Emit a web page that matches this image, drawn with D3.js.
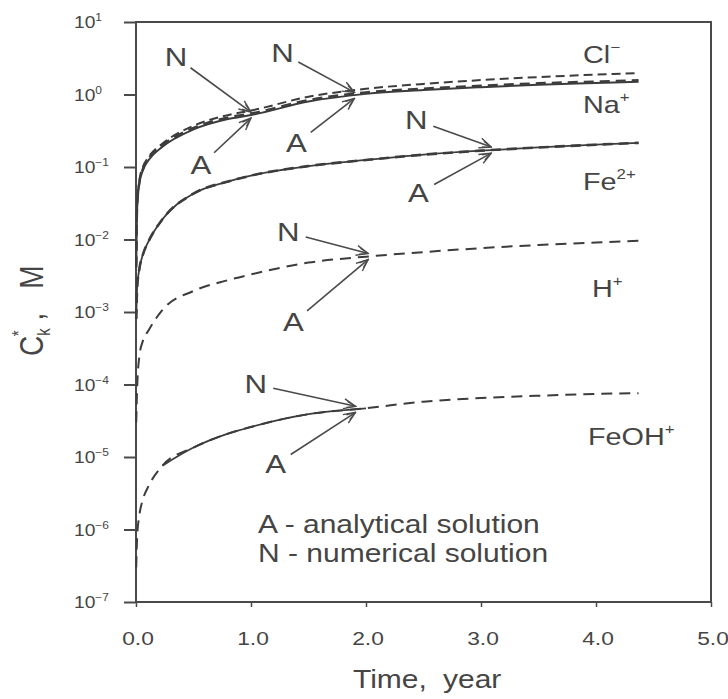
<!DOCTYPE html>
<html>
<head>
<meta charset="utf-8">
<script src="https://cdn.jsdelivr.net/npm/d3@7"></script>
<style>
  html, body { margin: 0; padding: 0; background: #fff; }
  svg { display: block; }
  text { font-family: "Liberation Sans", Arial, sans-serif; fill: #454545; }
</style>
</head>
<body>
<svg id="chart" width="728" height="699"></svg>
<script>
// Time points (years) at which the concentrations are tabulated
const times      = [0.002, 0.01, 0.03, 0.06, 0.11, 0.23, 0.5, 0.8, 1.0, 1.5, 2.0, 2.5, 3.0, 3.5, 4.0, 4.37];
// Concentrations C_k*, M
const clValues   = [0.0045, 0.031, 0.066, 0.10, 0.138, 0.21, 0.37, 0.52, 0.60, 0.93, 1.20, 1.40, 1.58, 1.74, 1.88, 1.98];
const naValues   = [0.004, 0.028, 0.060, 0.09, 0.125, 0.19, 0.33, 0.46, 0.52, 0.80, 1.02, 1.15, 1.26, 1.36, 1.44, 1.50];
const feValues   = [0.0008, 0.0022, 0.004, 0.0062, 0.0095, 0.019, 0.043, 0.063, 0.076, 0.103, 0.125, 0.148, 0.168, 0.186, 0.203, 0.215];
const hValues    = [3e-5, 9e-5, 2.5e-4, 4e-4, 5.6e-4, 1.07e-3, 1.95e-3, 2.75e-3, 3.3e-3, 4.8e-3, 5.8e-3, 6.7e-3, 7.6e-3, 8.4e-3, 9.1e-3, 9.6e-3];
const feohValues = [3e-7, 8e-7, 1.6e-6, 2.6e-6, 4.0e-6, 7.6e-6, 1.35e-5, 2.1e-5, 2.6e-5, 3.9e-5, 4.7e-5, 5.8e-5, 6.5e-5, 7.0e-5, 7.4e-5, 7.6e-5];

// Axis ticks
const xTickValues = [0, 1, 2, 3, 4, 5];
const xTickLabels = ["0.0", "1.0", "2.0", "3.0", "4.0", "5.0"];
const yTickExponents = [1, 0, -1, -2, -3, -4, -5, -6, -7];

// Species labels at the right end of each curve
const speciesNames = ["Cl", "Na", "Fe", "H", "FeOH"];
const speciesCharges = ["\u2212", "+", "2+", "+", "+"];

// Where the A / N arrows point: time on a given curve
const markTimes  = [1.0, 1.9, 3.09, 2.02, 1.91];
const markSeries = ["Na", "Na", "Fe", "H", "FeOH"];

const legendLines = ["A - analytical solution", "N - numerical solution"];

// ---------------------------------------------------------------
const svg = d3.select("#chart");
const SX = 1.2;        // horizontal stretch of the lettering
const ink = "#3c3c3c";

const x = d3.scaleLinear().domain([0, 5]).range([136, 711]);
const y = d3.scaleLog().domain([1e-7, 1e1]).range([602, 22]);

const seriesData = {
  Cl: clValues, Na: naValues, Fe: feValues, H: hValues, FeOH: feohValues
};
const pts = vals => times.map((t, i) => ({ t, v: vals[i] }));
const line = d3.line().x(d => x(d.t)).y(d => y(d.v)).curve(d3.curveMonotoneX);

function sText(g, px, py, sx = SX) {
  return g.append("text").attr("transform", `translate(${px},${py}) scale(${sx},1)`);
}

// frame
svg.append("rect")
  .attr("x", x(0)).attr("y", y(1e1))
  .attr("width", x(5) - x(0)).attr("height", y(1e-7) - y(1e1))
  .attr("fill", "none").attr("stroke", "#4a4a4a").attr("stroke-width", 2);

// y axis ticks
const yAxis = svg.append("g").attr("transform", `translate(${x(0)},0)`)
  .call(d3.axisLeft(y).tickValues(yTickExponents.map(e => Math.pow(10, e))).tickSize(12).tickFormat(""));
yAxis.select(".domain").remove();
yAxis.selectAll(".tick line").attr("stroke", "#4a4a4a").attr("stroke-width", 2);

yTickExponents.forEach(e => {
  const t = sText(svg, 74, y(Math.pow(10, e)) + 6);
  t.attr("font-size", 16);
  t.append("tspan").text("10");
  t.append("tspan").attr("font-size", 10).attr("dy", -7).text(e < 0 ? "\u2212" + (-e) : String(e));
});

// x axis ticks
const xAxis = svg.append("g").attr("transform", `translate(0,${y(1e-7)})`)
  .call(d3.axisBottom(x).tickValues(xTickValues).tickSize(5).tickFormat(""));
xAxis.select(".domain").remove();
xAxis.selectAll(".tick line").attr("stroke", "#4a4a4a").attr("stroke-width", 1.5);

xTickValues.forEach((v, i) => {
  sText(svg, x(v) + 2, 645).attr("font-size", 19).attr("text-anchor", "middle").text(xTickLabels[i]);
});

// axis titles
const xt = sText(svg, 353, 688).attr("font-size", 25);
xt.append("tspan").text("Time,");
xt.append("tspan").attr("x", (443 - 353) / SX).text("year");

const yt = svg.append("text")
  .attr("transform", "translate(43,356) rotate(-90) scale(1,1.2)")
  .attr("font-size", 28).attr("text-anchor", "start");
yt.append("tspan").text("C");
yt.append("tspan").attr("font-size", 15).attr("dy", 6).text("k");
yt.append("tspan").attr("font-size", 15).attr("dx", -8).attr("dy", -21).text("*");
yt.append("tspan").attr("dx", 10).attr("dy", 15).text(",");
yt.append("tspan").attr("dx", 24).text("M");

// curves
const curves = svg.append("g").attr("fill", "none").attr("stroke", ink).attr("stroke-linecap", "butt");
// Cl- : numerical (dashed)
curves.append("path").attr("d", line(pts(clValues))).attr("stroke-width", 2).attr("stroke-dasharray", "9,5");
// Na+ : analytical (solid) with numerical on top
curves.append("path").attr("d", line(pts(naValues))).attr("stroke-width", 2);
curves.append("path").attr("d", line(pts(naValues))).attr("stroke-width", 2.4).attr("stroke-dasharray", "10,6")
  .attr("transform", "translate(0,-1.5)");
// Fe2+ : solid + dashed coincide
curves.append("path").attr("d", line(pts(feValues))).attr("stroke-width", 1.8);
curves.append("path").attr("d", line(pts(feValues))).attr("stroke-width", 2.6).attr("stroke-dasharray", "10,6");
// H+ : dashed
curves.append("path").attr("d", line(pts(hValues))).attr("stroke-width", 2).attr("stroke-dasharray", "11,7");
// FeOH+ : dashed over the whole range, solid in the mid section
curves.append("path").attr("d", line(pts(feohValues))).attr("stroke-width", 2).attr("stroke-dasharray", "11,7");
curves.append("path").attr("d", line(pts(feohValues).filter(d => d.t >= 0.23 && d.t <= 2.0))).attr("stroke-width", 1.8);

// species labels
const labelPos = [[583, 63], [583, 113], [583, 190], [592, 297], [588, 445]];
speciesNames.forEach((n, i) => {
  const t = sText(svg, labelPos[i][0], labelPos[i][1]).attr("font-size", 24);
  t.append("tspan").text(n);
  t.append("tspan").attr("font-size", 14).attr("dy", -11).text(speciesCharges[i]);
});

// arrows
const defs = svg.append("defs");
defs.append("marker").attr("id", "head")
  .attr("viewBox", "0 0 14 12").attr("refX", 13).attr("refY", 6)
  .attr("markerWidth", 14).attr("markerHeight", 12).attr("markerUnits", "userSpaceOnUse")
  .attr("orient", "auto")
  .append("path").attr("d", "M1,1 L13,6 L1,11 M4,3 L13,6 L4,9")
  .attr("fill", "none").attr("stroke", "#4a4a4a").attr("stroke-width", 1.4);

function logAt(vals, t) {
  return d3.scaleLinear().domain(times).range(vals.map(Math.log10))(t);
}

// pixel offsets of the N and A letters from the arrow tips
const nOffsets = [[-75, -58], [-72, -42], [-75, -30], [-80, -24], [-100, -25]];
const aOffsets = [[-50, 50], [-58, 48], [-73, 43], [-75, 66], [-80, 55]];

const arrows = svg.append("g");
markTimes.forEach((t, i) => {
  const tipX = x(t);
  const tipY = y(Math.pow(10, logAt(seriesData[markSeries[i]], t)));
  [["N", nOffsets[i], -3], ["A", aOffsets[i], 3]].forEach(([lab, off, dyTip]) => {
    const lx = tipX + off[0], ly = tipY + off[1];
    const ty = tipY + dyTip;
    const dx = tipX - lx, dy = ty - ly, len = Math.hypot(dx, dy);
    const sx0 = lx + dx / len * 18, sy0 = ly + dy / len * 18;
    arrows.append("line")
      .attr("x1", sx0).attr("y1", sy0).attr("x2", tipX).attr("y2", ty)
      .attr("stroke", "#4a4a4a").attr("stroke-width", 1.6)
      .attr("marker-end", "url(#head)");
    sText(arrows, lx, ly + 9).attr("font-size", 26).attr("text-anchor", "middle").text(lab);
  });
});

// legend
legendLines.forEach((s, i) => {
  sText(svg, 258, 533 + i * 29).attr("font-size", 25).text(s);
});
</script>
</body>
</html>
